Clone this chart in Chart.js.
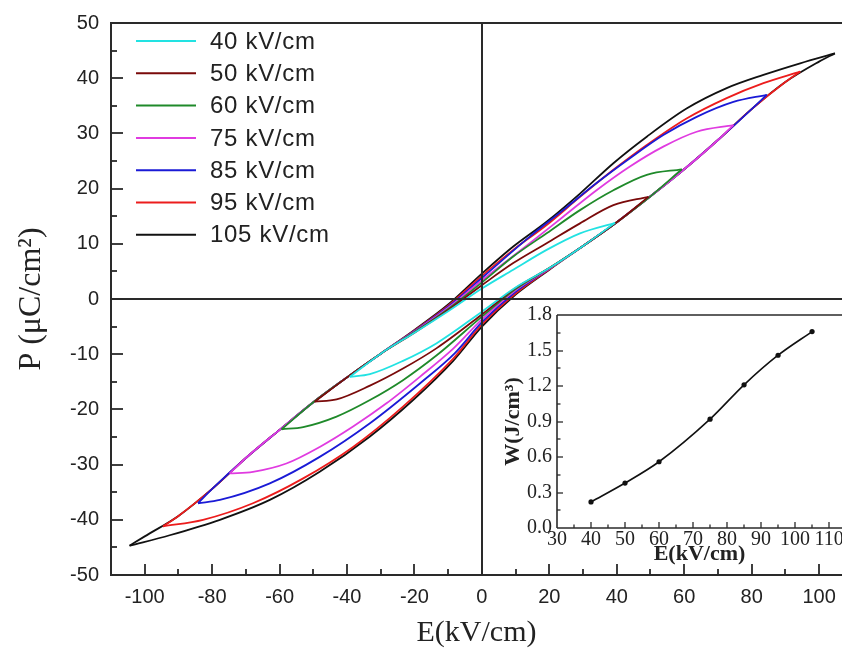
<!DOCTYPE html>
<html><head><meta charset="utf-8">
<script src="https://cdn.jsdelivr.net/npm/chart.js@4.4.1/dist/chart.umd.min.js"></script>
<style>
html,body{margin:0;padding:0;background:#fff;}
#wrap{position:relative;width:842px;height:650px;overflow:hidden;}
#mainBox{position:absolute;left:0;top:0;width:842px;height:650px;}
#insetBox{position:absolute;left:490px;top:295px;width:352px;height:280px;}
</style></head><body>
<div id="wrap">
  <div id="mainBox"><canvas id="main" width="842" height="650"></canvas></div>
  <div id="insetBox"><canvas id="inset" width="352" height="280"></canvas></div>
</div>
<script>
// ---------- data: P-E loops, [E (kV/cm), P (uC/cm^2)] ----------
const loopLabels = ['40 kV/cm','50 kV/cm','60 kV/cm','75 kV/cm','85 kV/cm','95 kV/cm','105 kV/cm'];
const loopColors = ['#22e2e2','#7a0a0a','#1f8a2a','#e03be0','#1a1ad6','#ec1c1c','#111111'];

const down40 = [[39.5,13.8],[29.1,11.9],[19.2,8.9],[9.3,5.3],[0,1.9],[-10,-2.2],[-20,-6.1],[-30,-9.9],[-39.2,-14.1]];
const up40   = [[-39.2,-14.1],[-33.2,-13.6],[-23.4,-11.2],[-13.4,-8.0],[0,-2.3],[10,2.1],[20,5.6],[30,9.6],[39.5,13.8]];

const down50 = [[49.4,18.5],[39,17],[29.1,13.7],[19.2,10.1],[9.3,6.5],[0,2.5],[-10,-2.0],[-20,-6.1],[-30,-9.9],[-40,-14.2],[-49.6,-18.6]];
const up50   = [[-49.6,-18.6],[-43.1,-18.2],[-33.2,-15.7],[-23.4,-12.6],[-13.4,-8.9],[0,-2.8],[10,2.0],[20,5.6],[30,9.6],[40,13.9],[49.4,18.5]];

const down60 = [[59.3,23.5],[48.9,22.5],[39,19.7],[29.1,16.1],[19.2,11.9],[9.3,7.7],[0,3.0],[-10,-1.8],[-20,-6.0],[-30,-9.9],[-40,-14.2],[-50,-18.7],[-59.4,-23.6]];
const up60   = [[-59.4,-23.6],[-53,-23.2],[-43.1,-21.3],[-33.2,-18.3],[-23.4,-14.7],[-13.4,-10.2],[0,-3.2],[10,1.8],[20,5.6],[30,9.6],[40,13.9],[50,18.6],[59.3,23.5]];

const down75 = [[74.6,31.5],[63.7,30.3],[53.8,27.6],[43.9,24],[34,19.7],[24.1,14.9],[14.2,10.1],[0,3.4],[-10,-1.6],[-20,-5.9],[-30,-9.9],[-40,-14.2],[-50,-18.7],[-60,-23.7],[-70,-28.8],[-74.8,-31.6]];
const up75   = [[-74.8,-31.6],[-67.9,-31.3],[-58,-29.8],[-48.1,-26.8],[-38.2,-23.1],[-28.3,-18.9],[-18.4,-14.1],[-8.5,-9.0],[0,-3.7],[10,1.6],[20,5.5],[30,9.6],[40,13.9],[50,18.6],[60,23.5],[70,28.8],[74.6,31.5]];

const down85 = [[84.5,37],[74.6,35.7],[63.7,33],[53.8,29.7],[43.9,25.5],[34,21],[24.1,16.1],[14.2,11.3],[0,3.8],[-10,-1.4],[-20,-5.8],[-30,-9.9],[-40,-14.2],[-50,-18.7],[-60,-23.7],[-70,-28.8],[-80,-34.4],[-84.2,-37]];
const up85   = [[-84.2,-37],[-77.7,-36.4],[-62.9,-33.4],[-48.1,-28.6],[-33.2,-22.5],[-18.4,-15.3],[-8,-9.8],[0,-4.2],[10,1.3],[20,5.5],[30,9.6],[40,13.9],[50,18.6],[60,23.5],[70,28.8],[80,34.4],[84.5,37]];

const down95 = [[94.4,41.2],[83.5,39.1],[72.6,36.4],[60.7,32.7],[48.9,27.9],[39,23.4],[29.1,18.5],[19.2,13.4],[9.3,8.9],[0,4.2],[-10,-1.2],[-20,-5.7],[-30,-9.9],[-40,-14.2],[-50,-18.7],[-60,-23.7],[-70,-28.8],[-80,-34.4],[-90,-39.3],[-94.6,-41.2]];
const up95   = [[-94.6,-41.2],[-82.7,-40],[-67.9,-37],[-53,-32.5],[-38.2,-26.8],[-23.4,-19.5],[-8.5,-10.8],[0,-4.6],[10,1.0],[20,5.4],[30,9.6],[40,13.9],[50,18.6],[60,23.5],[70,28.8],[80,34.4],[90,39.3],[94.4,41.2]];

const down105 = [[104.7,44.5],[94.4,42.7],[83.5,40.6],[72.6,38.2],[60.7,34.5],[48.9,29.4],[39,24.6],[29.1,19.1],[19.2,14.0],[9.3,9.5],[0,4.6],[-10,-1.0],[-20,-5.6],[-30,-9.9],[-40,-14.2],[-50,-18.7],[-60,-23.7],[-70,-28.8],[-80,-34.4],[-90,-39.3],[-100,-43.0],[-104.5,-44.7]];
const up105   = [[-104.5,-44.7],[-92.6,-42.8],[-77.7,-40],[-62.9,-36.4],[-48.1,-31.3],[-33.2,-24.9],[-20.4,-18.3],[-8.5,-11.2],[0,-5.0],[10,0.8],[20,5.3],[30,9.6],[40,13.9],[50,18.6],[60,23.5],[70,28.8],[80,34.4],[90,39.3],[100,43.0],[104.7,44.5]];

const downBranches = [down40, down50, down60, down75, down85, down95, down105];
const upBranches   = [up40, up50, up60, up75, up85, up95, up105];

// main axis ticks
const xMajorStep = 20, xMinorStep = 10;
const yMajorStep = 10, yMinorStep = 5;

// ---------- inset data ----------
const insetE = [40, 50, 60, 75, 85, 95, 105];
const insetW = [0.22, 0.38, 0.56, 0.92, 1.21, 1.46, 1.66];

const AXIS = '#2a2a2a';
const TXT = '#222';

function pts(arr){ return arr.map(p => ({x: p[0], y: p[1]})); }

const datasets = [];
loopLabels.forEach((lab, i) => {
  [downBranches[i], upBranches[i]].forEach(br => {
    datasets.push({
      label: lab, data: pts(br), showLine: true, borderColor: loopColors[i],
      backgroundColor: loopColors[i], borderWidth: 1.8, pointRadius: 0,
      cubicInterpolationMode: 'monotone', fill: false
    });
  });
});

function seg(ctx, x1, y1, x2, y2){ ctx.beginPath(); ctx.moveTo(x1, y1); ctx.lineTo(x2, y2); ctx.stroke(); }
function noPad(s){ s.paddingLeft = 0; s.paddingRight = 0; s.paddingTop = 0; s.paddingBottom = 0; }

const mainFrame = {
  id: 'mainFrame',
  afterDatasetsDraw(chart){
    const {ctx, chartArea: {left, right, top, bottom}, scales: {x, y}} = chart;
    const W = chart.width;
    ctx.save();
    ctx.strokeStyle = AXIS; ctx.lineWidth = 2; ctx.lineCap = 'butt';
    const x0 = Math.round(x.getPixelForValue(0)), y0 = Math.round(y.getPixelForValue(0));
    seg(ctx, x0, top, x0, bottom);
    seg(ctx, left, y0, W, y0);
    seg(ctx, left, top, W, top);
    seg(ctx, left, top - 1, left, bottom + 1);
    seg(ctx, left - 1, bottom, W, bottom);
    ctx.lineWidth = 1.8;
    for (let v = x.min; v <= x.max; v += xMinorStep) {
      const vv = Math.round(v);
      if (vv <= x.min) continue;
      const px = Math.round(x.getPixelForValue(vv));
      const len = (vv % xMajorStep === 0) ? 11 : 6;
      seg(ctx, px, bottom, px, bottom - len);
    }
    for (let v = y.min; v <= y.max; v += yMinorStep) {
      if (v <= y.min || v >= y.max) continue;
      const py = Math.round(y.getPixelForValue(v));
      const len = (v % yMajorStep === 0) ? 12 : 6;
      seg(ctx, left, py, left + len, py);
    }
    ctx.restore();
  },
  afterDraw(chart){
    const ctx = chart.ctx;
    ctx.save();
    ctx.font = '24px "Liberation Sans", Arial, sans-serif';
    ctx.fillStyle = TXT;
    ctx.textBaseline = 'middle';
    try { ctx.letterSpacing = '0.7px'; } catch(e) {}
    loopLabels.forEach((lab, i) => {
      const yy = 41 + i * 32.3;
      ctx.strokeStyle = loopColors[i]; ctx.lineWidth = 2;
      seg(ctx, 136, yy, 196, yy);
      ctx.fillText(lab, 210, yy + 1);
    });
    ctx.restore();
  }
};

new Chart(document.getElementById('main'), {
  type: 'scatter',
  data: { datasets },
  plugins: [mainFrame],
  options: {
    responsive: false, animation: false,
    layout: { autoPadding: false, padding: { top: 23, left: 0, right: 0, bottom: 0 } },
    plugins: { legend: { display: false }, tooltip: { enabled: false } },
    scales: {
      x: {
        type: 'linear', min: -110, max: 106.8,
        grid: { display: false, drawTicks: false }, border: { display: false },
        ticks: {
          stepSize: xMinorStep, includeBounds: false, autoSkip: false, maxRotation: 0,
          padding: 10, color: TXT, font: { family: '"Liberation Sans", Arial, sans-serif', size: 20 },
          callback: v => (v % xMajorStep === 0 && v >= -100) ? String(v) : ''
        },
        title: { display: true, text: 'E(kV/cm)', color: TXT,
          font: { family: '"Liberation Serif", "Times New Roman", serif', size: 30, lineHeight: 1 },
          padding: { top: 0, bottom: 2 } },
        afterFit: s => { s.height = 75; noPad(s); }
      },
      y: {
        type: 'linear', min: -50, max: 50,
        grid: { display: false, drawTicks: false }, border: { display: false },
        ticks: {
          stepSize: yMajorStep, autoSkip: false, padding: 12, color: TXT,
          font: { family: '"Liberation Sans", Arial, sans-serif', size: 20 }
        },
        title: { display: true, text: 'P (\u03bcC/cm\u00b2)', color: TXT,
          font: { family: '"Liberation Serif", "Times New Roman", serif', size: 32, lineHeight: 1.2 },
          padding: { top: 12, bottom: 0 } },
        afterFit: s => { s.width = 111; noPad(s); }
      }
    }
  }
});

// ---------- inset ----------
const insetFrame = {
  id: 'insetFrame',
  afterDatasetsDraw(chart){
    const {ctx, chartArea: {left, right, top, bottom}, scales: {x, y}} = chart;
    const W = chart.width;
    ctx.save();
    ctx.strokeStyle = AXIS; ctx.lineWidth = 1.6;
    seg(ctx, left, top, W, top);
    seg(ctx, left, top, left, bottom);
    seg(ctx, left, bottom, W, bottom);
    ctx.lineWidth = 1.3;
    for (let v = 35; v <= x.max; v += 5) {
      const px = Math.round(x.getPixelForValue(v));
      seg(ctx, px, bottom, px, bottom - (v % 10 === 0 ? 6 : 3.5));
    }
    for (let k = 1; k < 12; k++) {
      const v = k * 0.15;
      const py = Math.round(y.getPixelForValue(v));
      seg(ctx, left, py, left + (k % 2 === 0 ? 6 : 3.5), py);
    }
    ctx.restore();
  }
};

new Chart(document.getElementById('inset'), {
  type: 'scatter',
  data: { datasets: [{
    data: insetE.map((e, i) => ({x: e, y: insetW[i]})),
    showLine: true, borderColor: '#111', backgroundColor: '#111', borderWidth: 1.6,
    pointRadius: 2.6, pointBorderWidth: 0, cubicInterpolationMode: 'monotone'
  }]},
  plugins: [insetFrame],
  options: {
    responsive: false, animation: false,
    layout: { autoPadding: false, padding: { top: 20, left: 0, right: 0, bottom: 0 } },
    plugins: { legend: { display: false }, tooltip: { enabled: false } },
    scales: {
      x: {
        type: 'linear', min: 30, max: 113.8,
        grid: { display: false, drawTicks: false }, border: { display: false },
        ticks: { stepSize: 10, includeBounds: false, autoSkip: false, maxRotation: 0, padding: 0, color: TXT,
          font: { family: '"Liberation Serif", "Times New Roman", serif', size: 20 } },
        title: { display: true, text: 'E(kV/cm)', color: TXT,
          font: { family: '"Liberation Serif", "Times New Roman", serif', size: 22, weight: 'bold', lineHeight: 1.2 },
          padding: { top: 0, bottom: 7 } },
        afterFit: s => { s.height = 47; noPad(s); }
      },
      y: {
        type: 'linear', min: 0, max: 1.8,
        grid: { display: false, drawTicks: false }, border: { display: false },
        ticks: { stepSize: 0.3, autoSkip: false, padding: 5, color: TXT,
          font: { family: '"Liberation Serif", "Times New Roman", serif', size: 20 },
          callback: v => Number(v).toFixed(1) },
        title: { display: true, text: 'W(J/cm\u00b3)', color: TXT,
          font: { family: '"Liberation Serif", "Times New Roman", serif', size: 22, weight: 'bold', lineHeight: 1.2 },
          padding: { top: 10, bottom: 0 } },
        afterFit: s => { s.width = 67; noPad(s); }
      }
    }
  }
});
</script>
</body></html>
